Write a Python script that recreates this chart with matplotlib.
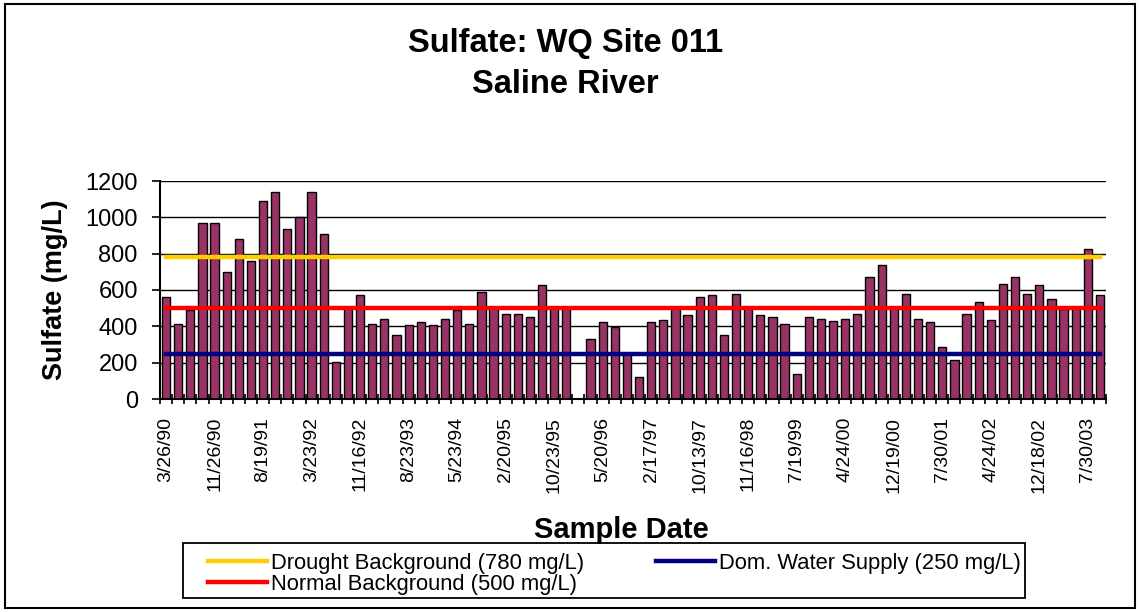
import numpy as np
import matplotlib
matplotlib.use("Agg")
import matplotlib.pyplot as plt
from matplotlib.patches import Rectangle

plt.rcParams['font.family'] = ['Liberation Sans', 'DejaVu Sans']

# sulfate, mg/L, one value per sample (0 = no sample)
sulfate = [560, 415, 490, 970, 970, 700, 880, 760, 1090, 1140,
           935, 1000, 1140, 910, 205, 500, 570, 415, 440, 350,
           405, 425, 405, 440, 490, 415, 590, 500, 470, 470,
           450, 625, 500, 500, 0, 330, 425, 395, 250, 120,
           425, 437, 505, 460, 560, 570, 350, 580, 505, 460,
           450, 415, 140, 450, 440, 430, 440, 470, 670, 735,
           505, 580, 440, 425, 285, 215, 470, 535, 437, 635,
           670, 580, 625, 550, 493, 505, 825, 570]
tick_dates = ['3/26/90', '11/26/90', '8/19/91', '3/23/92', '11/16/92',
              '8/23/93', '5/23/94', '2/20/95', '10/23/95', '5/20/96',
              '2/17/97', '10/13/97', '11/16/98', '7/19/99', '4/24/00',
              '12/19/00', '7/30/01', '4/24/02', '12/18/02', '7/30/03']
label_every = 4

drought = 780
normal = 500
dom_supply = 250

n = len(sulfate)
x = np.arange(n)

fig = plt.figure(figsize=(11.4, 6.12), dpi=100)
ax = fig.add_axes([160/1140, 1 - 399/612, 946/1140, 218/612])

ax.bar(x, sulfate, width=0.68, color='#993366', edgecolor='black',
       linewidth=1.0, zorder=2)
l1, = ax.plot(x, [drought]*n, color='#FFCC00', lw=3.2, zorder=3)
l2, = ax.plot(x, [normal]*n, color='#FF0000', lw=3.2, zorder=3)
l3, = ax.plot(x, [dom_supply]*n, color='#000080', lw=3.2, zorder=3)

ax.set_xlim(-0.5, n - 0.5)
ax.set_ylim(0, 1200)
ax.set_yticks(range(0, 1201, 200))
ax.yaxis.grid(True, color='black', lw=1.0, zorder=0)
ax.set_axisbelow(True)
for s in ['top', 'right']:
    ax.spines[s].set_visible(False)
for s in ['left', 'bottom']:
    ax.spines[s].set_linewidth(1.5)

ax.set_xticks(x[::label_every])
ax.set_xticklabels(tick_dates, rotation=90, fontsize=14)
ax.tick_params(axis='x', length=0, pad=13)
ax.set_xticks(np.arange(-0.5, n, 1), minor=True)
ax.tick_params(axis='x', which='minor', direction='inout', length=7, width=1.2)
ax.tick_params(axis='y', labelsize=17, length=6, width=1.2, pad=10,
               direction='out')

fig.text(0.496, 0.896, 'Sulfate: WQ Site 011\nSaline River', ha='center',
         va='center', fontsize=23.5, fontweight='bold', linespacing=1.42)
fig.text(55/1140, 1 - 290/612, 'Sulfate (mg/L)', rotation=90, ha='center',
         va='center', fontsize=19.5, fontweight='bold')
fig.text(621/1140, 1 - 530/612, 'Sample Date', ha='center', va='center',
         fontsize=21, fontweight='bold')

# legend box drawn by hand, legend entries placed inside it
fig.patches.append(Rectangle((183/1140, 1 - 598/612), 842/1140, 55/612,
                             transform=fig.transFigure, fill=False,
                             edgecolor='black', lw=1.3))
leg = fig.legend([l1, l2, l3],
                 ['Drought Background (780 mg/L)', 'Normal Background (500 mg/L)',
                  'Dom. Water Supply (250 mg/L)'],
                 ncol=2, loc='upper left',
                 bbox_to_anchor=(208/1140, 1 - 553/612),
                 fontsize=15.8, frameon=False,
                 handlelength=2.7, handletextpad=0.15, labelspacing=0.0,
                 borderpad=0, columnspacing=3.3, borderaxespad=0)

fig.patches.append(Rectangle((0.004, 0.006), 0.992, 0.988, transform=fig.transFigure,
                             fill=False, edgecolor='black', lw=1.5))

fig.savefig('out.png', dpi=100)
